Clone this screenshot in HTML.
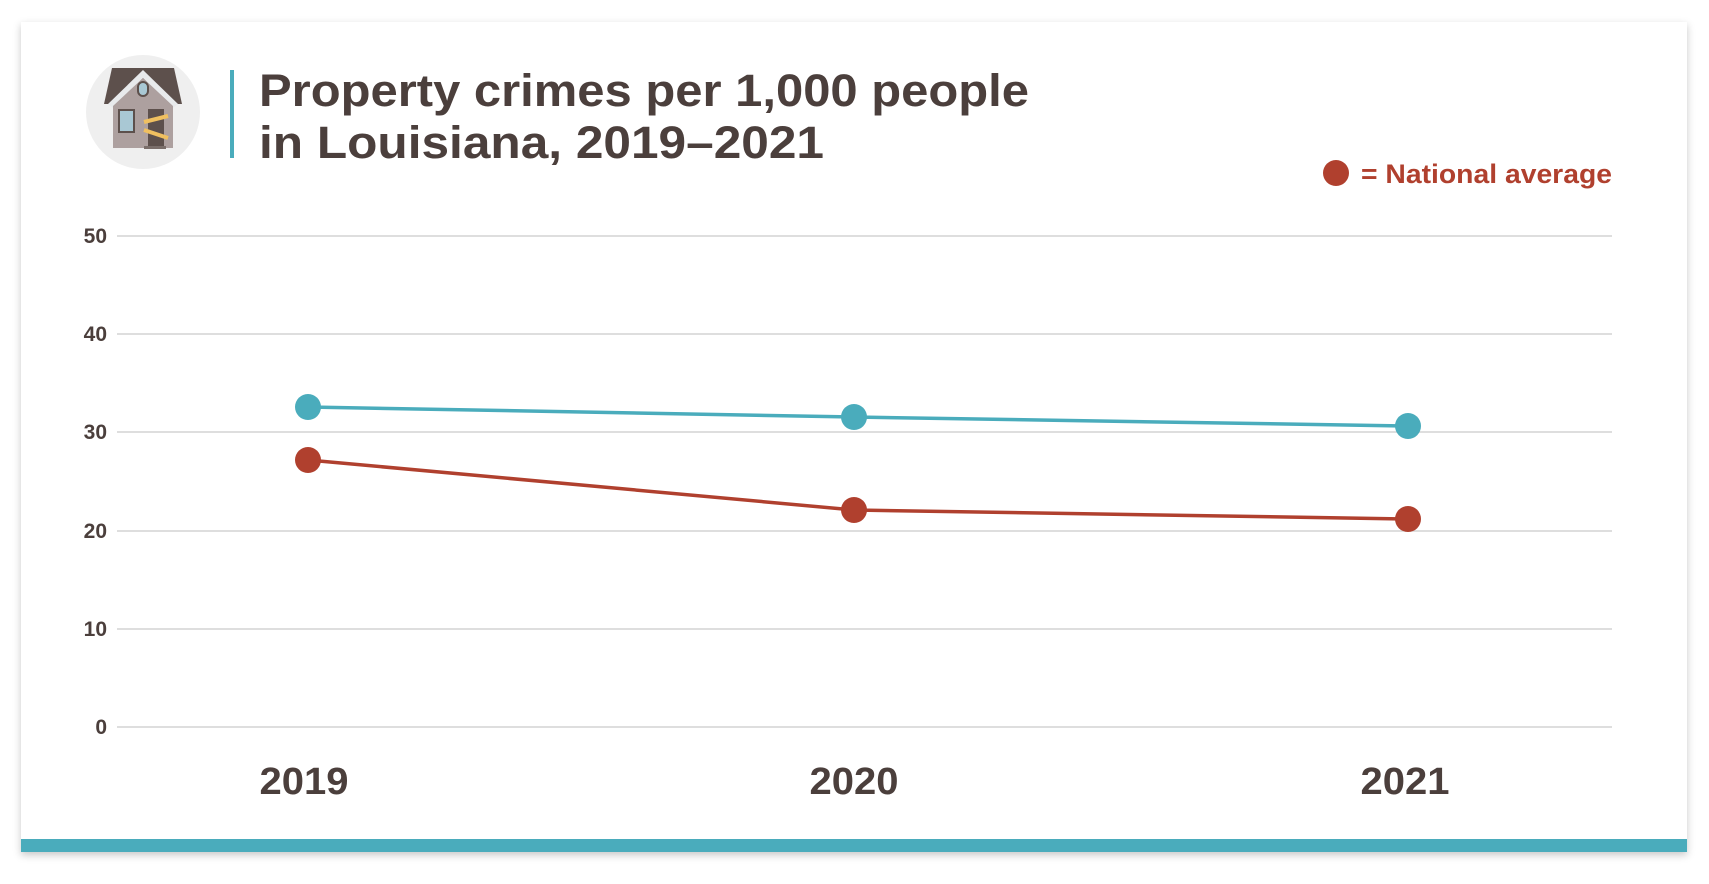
<!DOCTYPE html>
<html><head><meta charset="utf-8"><style>
html,body{margin:0;padding:0;background:#fff;width:1709px;height:884px;overflow:hidden}
svg{display:block}
text{font-family:"Liberation Sans",sans-serif;font-weight:bold}
</style></head><body>
<svg width="1709" height="884" viewBox="0 0 1709 884">
<defs><filter id="sh" x="-5%" y="-5%" width="110%" height="115%"><feDropShadow dx="0" dy="3" stdDeviation="4" flood-color="#000" flood-opacity="0.22"/></filter></defs>
<rect x="21" y="22" width="1666" height="830" fill="#fff" filter="url(#sh)"/>
<rect x="21" y="839" width="1666" height="13" fill="#4aacbc"/>
<circle cx="143" cy="112" r="57" fill="#efefef"/>
<polygon points="112,68 174,68 182,104 104,104" fill="#5d504c"/>
<polygon points="108,104 143,70 178,104 173,108 143,78 113,108" fill="#e8eaec"/>
<polygon points="113,106 143,78 173,106 173,148 113,148" fill="#ada09f"/>
<rect x="138" y="82" width="10" height="14" rx="5" fill="#a9c8d4" stroke="#5d504c" stroke-width="2"/>
<rect x="119" y="110" width="15" height="22" fill="#a9c8d4" stroke="#5d504c" stroke-width="2"/>
<rect x="148" y="109" width="16" height="37" fill="#5d504c"/>
<line x1="144" y1="122" x2="168" y2="116" stroke="#f0c060" stroke-width="4"/>
<line x1="144" y1="130" x2="168" y2="138" stroke="#f0c060" stroke-width="4"/>
<rect x="144" y="146" width="22" height="3" fill="#7a6e6a"/>
<rect x="230" y="70" width="4" height="88" fill="#4aacbc"/>
<text x="259" y="106" font-size="45" fill="#4b3f3c" textLength="770" lengthAdjust="spacingAndGlyphs">Property crimes per 1,000 people</text>
<text x="259" y="158" font-size="45" fill="#4b3f3c" textLength="565" lengthAdjust="spacingAndGlyphs">in Louisiana, 2019–2021</text>
<circle cx="1336" cy="173" r="13" fill="#b0402e"/>
<text x="1361" y="183" font-size="27" fill="#b0402e" textLength="251" lengthAdjust="spacingAndGlyphs">= National average</text>
<g stroke="#d4d4d4" stroke-width="1.5">
<line x1="117" y1="236" x2="1612" y2="236"/><line x1="117" y1="334" x2="1612" y2="334"/>
<line x1="117" y1="432" x2="1612" y2="432"/><line x1="117" y1="531" x2="1612" y2="531"/>
<line x1="117" y1="629" x2="1612" y2="629"/><line x1="117" y1="727" x2="1612" y2="727"/>
</g>
<g font-size="21" fill="#4b3f3c" text-anchor="end">
<text x="107" y="243">50</text><text x="107" y="341">40</text><text x="107" y="439">30</text>
<text x="107" y="538">20</text><text x="107" y="636">10</text><text x="107" y="734">0</text>
</g>
<g font-size="38" fill="#4b3f3c" text-anchor="middle">
<text x="304" y="794" textLength="89" lengthAdjust="spacingAndGlyphs">2019</text><text x="854" y="794" textLength="89" lengthAdjust="spacingAndGlyphs">2020</text><text x="1405" y="794" textLength="89" lengthAdjust="spacingAndGlyphs">2021</text>
</g>
<polyline points="308,407 854,417 1408,426" fill="none" stroke="#4aacbc" stroke-width="3.5"/>
<polyline points="308,460 854,510 1408,519" fill="none" stroke="#b0402e" stroke-width="3.5"/>
<g fill="#4aacbc"><circle cx="308" cy="407" r="13"/><circle cx="854" cy="417" r="13"/><circle cx="1408" cy="426" r="13"/></g>
<g fill="#b0402e"><circle cx="308" cy="460" r="13"/><circle cx="854" cy="510" r="13"/><circle cx="1408" cy="519" r="13"/></g>
</svg>
</body></html>
